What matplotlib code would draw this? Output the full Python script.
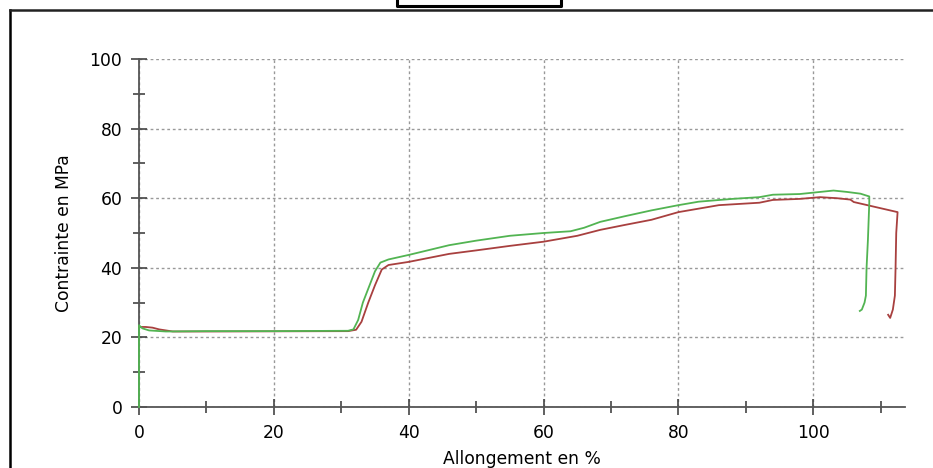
import matplotlib
matplotlib.use("Agg")
import matplotlib.pyplot as plt
from matplotlib.lines import Line2D
from matplotlib.ticker import MultipleLocator

plt.rcParams['font.family'] = ['DejaVu Sans']

# green test curve (elongation %, stress MPa)
green_x = [0, 0, 0.5, 1.5, 4, 10, 20, 31, 31.8, 32.5, 33.2, 34, 35, 35.8, 37, 40, 46, 50,
           55, 60, 64, 66, 68.4, 72, 76, 80, 83, 88, 92, 94, 98, 101, 103, 105, 107, 108.3,
           108.3, 108.1, 107.9, 107.8, 107.6, 107.2, 106.9]
green_y = [0, 23.5, 22.6, 22, 21.7, 21.8, 21.8, 21.9, 22.3, 25, 30, 34, 39, 41.5, 42.4, 43.7,
           46.5, 47.8, 49.2, 50, 50.5, 51.5, 53.2, 54.8, 56.5, 58, 59, 59.8, 60.3, 61, 61.2,
           61.8, 62.2, 61.8, 61.3, 60.5, 58.5, 48, 40, 32, 30, 28, 27.6]

# red test curve
red_x = [0, 1, 2, 3, 5, 10, 31, 32.2, 33, 34, 35, 36, 37, 40, 46, 50, 55, 60, 65, 68.4, 72,
         76, 80, 86, 92, 94, 98, 101, 103.5, 105.5, 106, 112.5, 112.3, 112.2, 112.1, 111.8,
         111.4, 111.1]
red_y = [23, 23, 22.8, 22.3, 21.7, 21.7, 21.8, 22.2, 24.5, 30, 35, 39.5, 40.8, 41.7, 44, 45,
         46.3, 47.5, 49.2, 50.9, 52.3, 53.8, 56, 58, 58.7, 59.5, 59.8, 60.3, 60, 59.6, 58.9,
         56, 50, 40, 32, 28, 25.6, 26.5]

x_ticks = [0, 20, 40, 60, 80, 100]
y_ticks = [0, 20, 40, 60, 80, 100]

fig = plt.figure(figsize=(9.33, 4.68), dpi=100)
ax = fig.add_axes([139 / 933, 61 / 468, 766 / 933, 348 / 468])

ax.plot(red_x, red_y, color='#a8403f', lw=1.3, zorder=3, clip_on=False)
ax.plot(green_x, green_y, color='#52b452', lw=1.3, zorder=4, clip_on=False)

ax.set_xlim(0, 113.6)
ax.set_ylim(0, 100)
ax.set_xticks(x_ticks)
ax.set_yticks(y_ticks)
ax.xaxis.set_minor_locator(MultipleLocator(10))
ax.yaxis.set_minor_locator(MultipleLocator(10))
ax.tick_params(which='major', direction='inout', length=12, width=1.2, color='#444',
               labelsize=12.3, pad=6)
ax.tick_params(which='minor', direction='inout', length=9, width=1.2, color='#444')
ax.grid(True, which='major', linestyle=(0, (2, 2)), color='#999', lw=1)
ax.set_axisbelow(True)

for s in ['top', 'right']:
    ax.spines[s].set_visible(False)
for s in ['left', 'bottom']:
    ax.spines[s].set_color('#555')
    ax.spines[s].set_linewidth(1.3)

ax.set_xlabel('Allongement en %', fontsize=12.3, labelpad=6)
ax.set_ylabel('Contrainte en MPa', fontsize=12.3, labelpad=12)

# outer frame of the screenshot
W, H = 933, 468
fig.add_artist(Line2D([10 / W, 10 / W], [0, 1 - 10 / H], color='black', lw=1.8))
fig.add_artist(Line2D([10 / W, 1], [1 - 10 / H, 1 - 10 / H], color='#222', lw=1.8))
fig.add_artist(Line2D([397 / W, 397 / W, 561 / W, 561 / W], [1, 1 - 5.5 / H, 1 - 5.5 / H, 1],
                      color='black', lw=2.2))

fig.savefig('out.png', dpi=100)
